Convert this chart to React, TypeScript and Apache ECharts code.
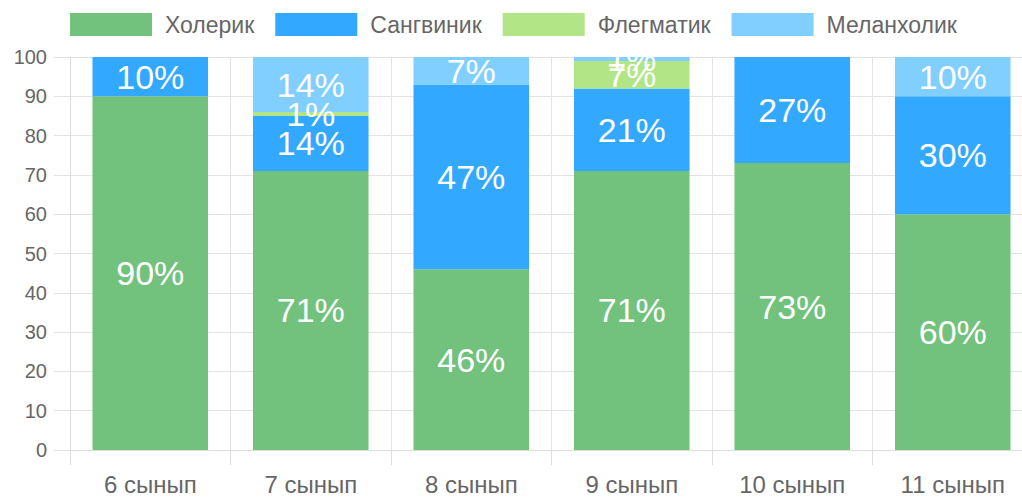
import React, { useEffect, useRef } from "react";
import * as echarts from "echarts";

const categories = ["6 сынып", "7 сынып", "8 сынып", "9 сынып", "10 сынып", "11 сынып"];
const seriesNames = ["Холерик", "Сангвиник", "Флегматик", "Меланхолик"];
const choleric = [90, 71, 46, 71, 73, 60];
const sanguine = [10, 14, 47, 21, 27, 30];
const phlegmatic = [0, 1, 0, 7, 0, 0];
const melancholic = [0, 14, 7, 1, 0, 10];
const yTicks = { min: 0, max: 100, interval: 10 };
const colors = ["#72c27e", "#33a8ff", "#b1e586", "#80cfff"];

const FONT = "'Liberation Sans', Arial, Helvetica, sans-serif";

export default function App() {
  const ref = useRef<HTMLDivElement>(null);
  useEffect(() => {
    if (!ref.current) return;
    const chart = echarts.init(ref.current, undefined, { renderer: "svg" });
    const values = [choleric, sanguine, phlegmatic, melancholic];
    const series = seriesNames.map((name, i) => ({
      name,
      type: "bar",
      stack: "total",
      barCategoryGap: "28%",
      data: values[i],
      itemStyle: { color: colors[i] },
      label: {
        show: true,
        position: "inside",
        color: "#fff",
        fontSize: 34,
        fontFamily: FONT,
        formatter: (p: any) => (p.value > 0 ? `${p.value}%` : ""),
      },
    }));
    chart.setOption({
      animation: false,
      textStyle: { fontFamily: FONT },
      legend: {
        left: 70,
        top: 13,
        padding: 0,
        itemWidth: 82,
        itemHeight: 23,
        itemGap: 21,
        icon: "rect",
        data: seriesNames,
        textStyle: { fontSize: 23, color: "#666", fontFamily: FONT, padding: [0, 0, 0, 8] },
      },
      grid: { left: 70, right: 1, top: 57, bottom: 52, containLabel: false },
      xAxis: {
        type: "category",
        data: categories,
        boundaryGap: true,
        axisLine: { show: true, lineStyle: { color: "#ddd" } },
        axisTick: { show: true, length: 15, lineStyle: { color: "#ddd" } },
        splitLine: { show: true, lineStyle: { color: "#e3e3e3" } },
        axisLabel: { color: "#666", fontSize: 24, margin: 22, fontFamily: FONT },
      },
      yAxis: {
        type: "value",
        min: yTicks.min,
        max: yTicks.max,
        interval: yTicks.interval,
        axisLine: { show: true, lineStyle: { color: "#ddd" } },
        axisTick: { show: true, length: 16, lineStyle: { color: "#e3e3e3" } },
        splitLine: { show: true, lineStyle: { color: "#e3e3e3" } },
        axisLabel: { color: "#666", fontSize: 20, margin: 23, fontFamily: FONT },
      },
      graphic: [
        {
          type: "rect",
          z: 100,
          shape: { x: 70, y: 41, width: 980, height: 15.5 },
          style: { fill: "#fff" },
          silent: true,
        },
      ],
      series,
    });
    return () => chart.dispose();
  }, []);
  return (
    <div
      style={{ position: "absolute", left: 0, top: 0, width: 1022, height: 502, overflow: "hidden", background: "#fff" }}
    >
      <div ref={ref} style={{ width: 1034, height: 502 }} />
    </div>
  );
}
